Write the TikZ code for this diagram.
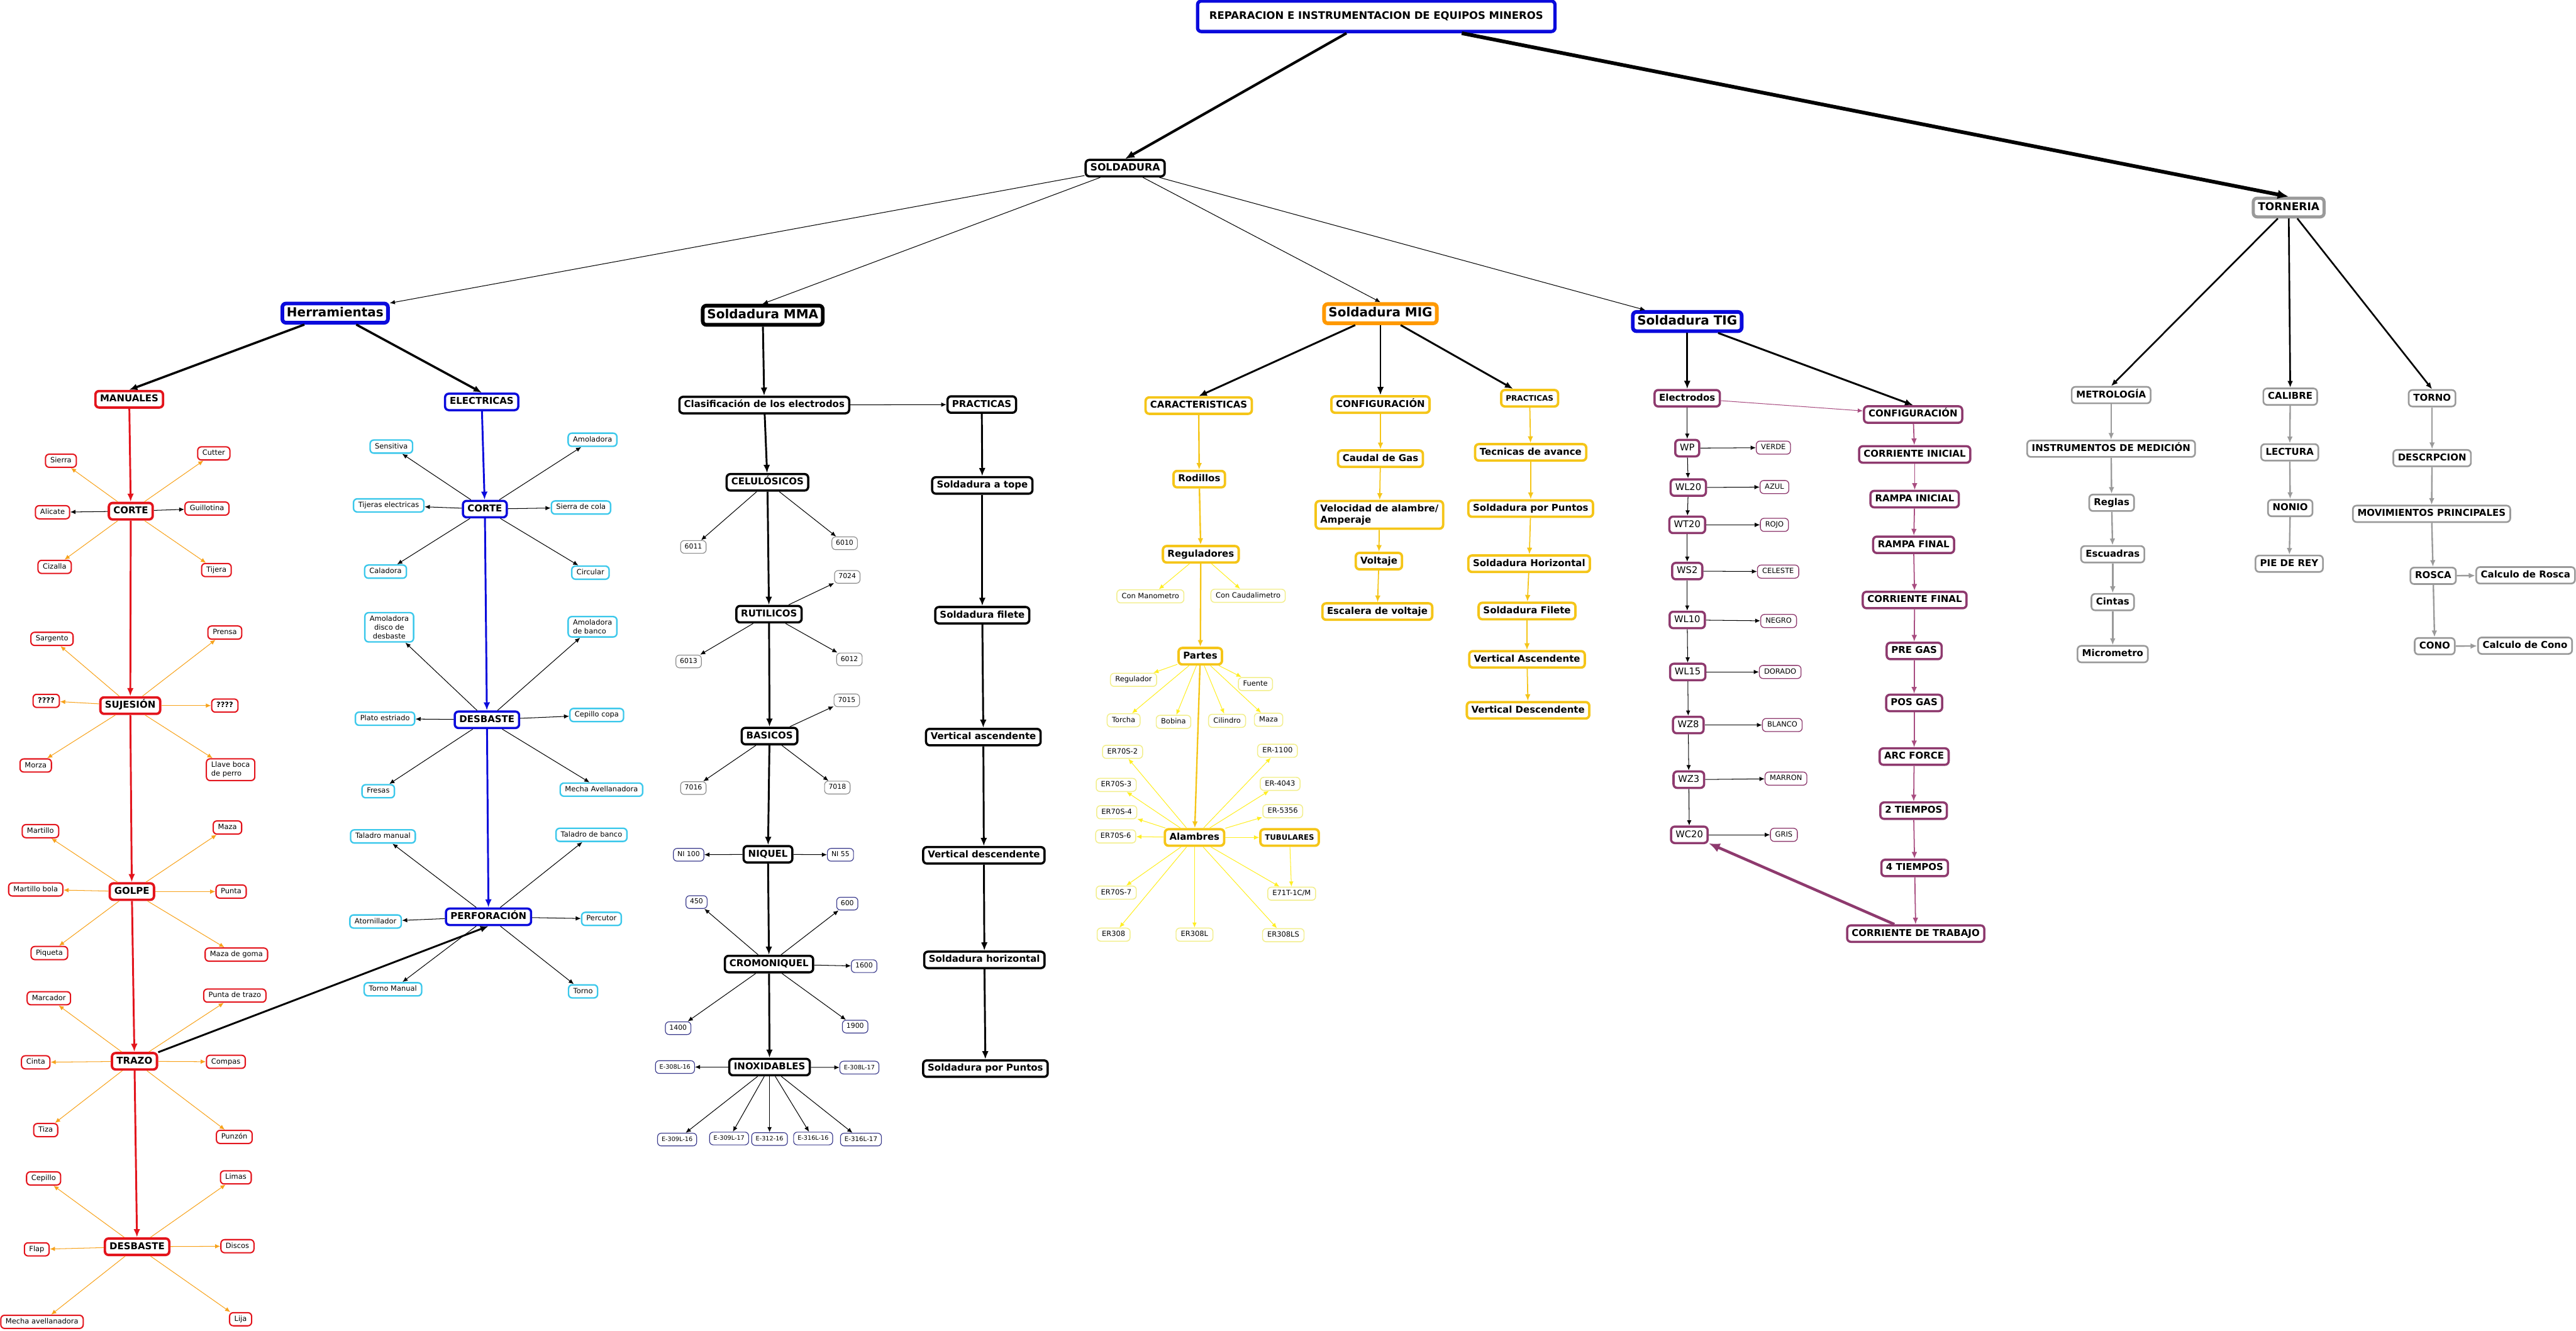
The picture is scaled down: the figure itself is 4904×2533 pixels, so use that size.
\documentclass[tikz,border=0pt]{standalone}
\usepackage{fontspec}
\setmainfont{DejaVu Sans}
\usetikzlibrary{arrows.meta}
\definecolor{cred}{HTML}{E3141C}
\definecolor{corange}{HTML}{F7A21B}
\definecolor{cblue}{HTML}{0A0ADC}
\definecolor{ccyan}{HTML}{3CC8EB}
\definecolor{cgold}{HTML}{F5C518}
\definecolor{cyel}{HTML}{FFEE22}
\definecolor{cyelb}{HTML}{F2EE8A}
\definecolor{cmig}{HTML}{FF9900}
\definecolor{cpurp}{HTML}{8E3A6E}
\definecolor{cpurpl}{HTML}{A84C80}
\definecolor{cgrayb}{HTML}{9A9A9A}
\definecolor{cgrayd}{HTML}{8C8C8C}
\definecolor{cnavy}{HTML}{3A3A8C}
\tikzset{
 box/.style={draw, fill=white, rounded corners=2pt, align=center},
 hdr/.style={box, line width=2pt, font=\bfseries\fontsize{6.8}{8}\selectfont, text height=5.2pt, text depth=1.6pt, inner xsep=2.4pt, inner ysep=1.8pt},
 lvtwo/.style={box, line width=1.1pt, font=\bfseries\fontsize{5.1}{6.2}\selectfont, text height=3.9pt, text depth=1.2pt, inner xsep=2.5pt, inner ysep=1.9pt},
 leaf/.style={box, line width=0.7pt, font=\fontsize{3.9}{4.8}\selectfont, text height=3pt, text depth=0.9pt, inner xsep=2.6pt, inner ysep=1.6pt},
 num/.style={box, line width=0.4pt, font=\fontsize{3.7}{4.5}\selectfont, text height=2.8pt, text depth=0.9pt, inner xsep=2.2pt, inner ysep=1.6pt},
 multi/.style={text height={}, text depth={}},
 ar/.style={-{Latex[length=2.8pt,width=2.4pt]}, line width=0.35pt},
 arm/.style={-{Latex[length=3.6pt,width=3pt]}, line width=0.8pt},
 arl/.style={-{Latex[length=4.4pt,width=3.6pt]}, line width=1pt},
 redtop/.style={lvtwo, draw=cred, line width=1.3pt},
 redleaf/.style={leaf, draw=cred},
 bluetop/.style={lvtwo, draw=cblue, line width=1.2pt},
 cyanleaf/.style={leaf, draw=ccyan, line width=0.8pt},
 blk/.style={lvtwo, line width=1.2pt},
 gnum/.style={num, draw=cgrayd},
 nnum/.style={num, draw=cnavy},
 gold/.style={lvtwo, draw=cgold, line width=1.3pt},
 yleaf/.style={leaf, draw=cyelb, line width=0.5pt},
 purp/.style={lvtwo, draw=cpurp, line width=1.2pt},
 pcode/.style={lvtwo, draw=cpurp, line width=1.2pt, font=\fontsize{5}{6}\selectfont},
 pleaf/.style={leaf, draw=cpurp, line width=0.45pt},
 gbox/.style={lvtwo, draw=cgrayb, line width=0.9pt},
}
\begin{document}
\begin{tikzpicture}[x=0.01cm,y=-0.01cm]
\useasboundingbox (0,0) rectangle (4904,2533);
% ---------- top ----------
\node[box, draw=cblue, line width=1.8pt, font=\bfseries\fontsize{5.6}{6.8}\selectfont, minimum width=6.8cm, minimum height=0.58cm] (title) at (2620,31) {REPARACION E INSTRUMENTACION DE EQUIPOS MINEROS};
\node[blk, font=\bfseries\fontsize{5.4}{6.5}\selectfont] (sold) at (2142,320) {SOLDADURA};
\node[box, draw=cgrayb, line width=1.7pt, font=\bfseries\fontsize{5.8}{7}\selectfont, text height=4.4pt, text depth=1.3pt, inner xsep=2.5pt, inner ysep=2.2pt] (torn) at (4357,395) {TORNERIA};
% ---------- Herramientas ----------
\node[hdr, draw=cblue] (herr) at (638,596) {Herramientas};
\node[redtop] (man) at (246,760) {MANUALES};
\node[bluetop] (elec) at (917,765) {ELECTRICAS};
% manuales
\node[redtop] (mcorte) at (249,973) {CORTE};
\node[redleaf] (msierra) at (116,877) {Sierra};
\node[redleaf] (mcutter) at (407,863) {Cutter};
\node[redleaf] (malicate) at (100,975) {Alicate};
\node[redleaf] (mguill) at (394,968) {Guillotina};
\node[redleaf] (mcizalla) at (104,1079) {Cizalla};
\node[redleaf] (mtijera) at (412,1085) {Tijera};
\node[redtop] (msuj) at (248,1343) {SUJESIÓN};
\node[redleaf] (msarg) at (99,1216) {Sargento};
\node[redleaf] (mprensa) at (428,1204) {Prensa};
\node[redleaf, font=\bfseries\fontsize{3.9}{4.8}\selectfont] (mqa) at (88,1334) {????};
\node[redleaf, font=\bfseries\fontsize{3.9}{4.8}\selectfont] (mqb) at (428,1343) {????};
\node[redleaf] (mmorza) at (68,1457) {Morza};
\node[redleaf, multi, align=left] (mllave) at (439,1465) {Llave boca\\de perro};
\node[redtop] (mgolpe) at (251,1697) {GOLPE};
\node[redleaf] (mmart) at (77,1582) {Martillo};
\node[redleaf] (mmaza) at (433,1575) {Maza};
\node[redleaf] (mmbola) at (68,1693) {Martillo bola};
\node[redleaf] (mpunta) at (440,1697) {Punta};
\node[redleaf] (mpiq) at (94,1814) {Piqueta};
\node[redleaf] (mmgoma) at (450,1817) {Maza de goma};
\node[redtop] (mtrazo) at (256,2020) {TRAZO};
\node[redleaf] (mmarc) at (93,1900) {Marcador};
\node[redleaf] (mptrazo) at (447,1895) {Punta de trazo};
\node[redleaf] (mcinta) at (68,2022) {Cinta};
\node[redleaf] (mcompas) at (430,2021) {Compas};
\node[redleaf] (mtiza) at (87,2151) {Tiza};
\node[redleaf] (mpunzon) at (446,2164) {Punzón};
\node[redtop] (mdesb) at (261,2373) {DESBASTE};
\node[redleaf] (mcepillo) at (83,2243) {Cepillo};
\node[redleaf] (mlimas) at (449,2241) {Limas};
\node[redleaf] (mflap) at (70,2378) {Flap};
\node[redleaf] (mdiscos) at (452,2372) {Discos};
\node[redleaf] (mmecha) at (80,2516) {Mecha avellanadora};
\node[redleaf] (mlija) at (458,2511) {Lija};
% electricas
\node[bluetop] (ecorte) at (923,969) {CORTE};
\node[cyanleaf] (esens) at (745,850) {Sensitiva};
\node[cyanleaf] (eamol) at (1128,837) {Amoladora};
\node[cyanleaf] (etij) at (740,962) {Tijeras electricas};
\node[cyanleaf] (esierra) at (1106,966) {Sierra de cola};
\node[cyanleaf] (ecal) at (734,1088) {Caladora};
\node[cyanleaf] (ecirc) at (1124,1090) {Circular};
\node[cyanleaf, multi] (eamdd) at (741,1194) {Amoladora\\disco de\\desbaste};
\node[cyanleaf, multi, align=left] (eamb) at (1128,1193) {Amoladora\\de banco};
\node[bluetop] (edesb) at (927,1370) {DESBASTE};
\node[cyanleaf] (eplato) at (733,1368) {Plato estriado};
\node[cyanleaf] (ecep) at (1136,1361) {Cepillo copa};
\node[cyanleaf] (efres) at (720,1506) {Fresas};
\node[cyanleaf] (emecha) at (1145,1503) {Mecha Avellanadora};
\node[cyanleaf] (etalm) at (729,1592) {Taladro manual};
\node[cyanleaf] (etalb) at (1126,1589) {Taladro de banco};
\node[bluetop] (eperf) at (930,1745) {PERFORACIÓN};
\node[cyanleaf] (eator) at (715,1754) {Atornillador};
\node[cyanleaf] (eperc) at (1145,1749) {Percutor};
\node[cyanleaf] (etornm) at (748,1883) {Torno Manual};
\node[cyanleaf] (etorno) at (1110,1887) {Torno};
% ---------- MMA ----------
\node[hdr] (mma) at (1452,600) {Soldadura MMA};
\node[blk] (clas) at (1455,771) {Clasificación de los electrodos};
\node[blk] (prac) at (1869,770) {PRACTICAS};
\node[blk] (celu) at (1461,918) {CELULÓSICOS};
\node[blk] (tope) at (1870,924) {Soldadura a tope};
\node[gnum] (n6011) at (1320,1041) {6011};
\node[gnum] (n6010) at (1608,1034) {6010};
\node[gnum] (n7024) at (1613,1098) {7024};
\node[blk] (ruti) at (1464,1169) {RUTILICOS};
\node[blk] (filete) at (1870,1171) {Soldadura filete};
\node[gnum] (n6013) at (1311,1259) {6013};
\node[gnum] (n6012) at (1617,1255) {6012};
\node[gnum] (n7015) at (1612,1333) {7015};
\node[blk] (basi) at (1465,1401) {BASICOS};
\node[blk] (vasc) at (1872,1403) {Vertical ascendente};
\node[gnum] (n7016) at (1320,1500) {7016};
\node[gnum] (n7018) at (1594,1499) {7018};
\node[blk] (niq) at (1462,1626) {NIQUEL};
\node[nnum] (nia) at (1311,1627) {NI 100};
\node[nnum] (nib) at (1600,1627) {NI 55};
\node[blk] (vdesc) at (1873,1628) {Vertical descendente};
\node[nnum] (n450) at (1326,1717) {450};
\node[nnum] (n600) at (1613,1720) {600};
\node[blk] (crom) at (1464,1835) {CROMONIQUEL};
\node[nnum] (n1600) at (1645,1839) {1600};
\node[blk] (shor) at (1874,1827) {Soldadura horizontal};
\node[nnum] (n1400) at (1291,1957) {1400};
\node[nnum] (n1900) at (1628,1954) {1900};
\node[blk] (inox) at (1465,2031) {INOXIDABLES};
\node[nnum, font=\fontsize{3.3}{4}\selectfont] (eaa) at (1285,2031) {E-308L-16};
\node[nnum, font=\fontsize{3.3}{4}\selectfont] (eab) at (1636,2032) {E-308L-17};
\node[blk] (spunt) at (1876,2034) {Soldadura por Puntos};
\node[nnum, font=\fontsize{3.3}{4}\selectfont] (eba) at (1289,2169) {E-309L-16};
\node[nnum, font=\fontsize{3.3}{4}\selectfont] (ebb) at (1388,2167) {E-309L-17};
\node[nnum, font=\fontsize{3.3}{4}\selectfont] (eca) at (1465,2168) {E-312-16};
\node[nnum, font=\fontsize{3.3}{4}\selectfont] (eda) at (1548,2167) {E-316L-16};
\node[nnum, font=\fontsize{3.5}{4.2}\selectfont] (edb) at (1639,2169) {E-316L-17};
% ---------- MIG ----------
\node[hdr, draw=cmig] (mig) at (2628,597) {Soldadura MIG};
\node[gold] (car) at (2282,772) {CARACTERISTICAS};
\node[gold] (mcfg) at (2628,770) {CONFIGURACIÓN};
\node[gold, font=\bfseries\fontsize{4.1}{5}\selectfont] (mprac) at (2912,758) {PRACTICAS};
\node[gold] (rod) at (2283,912) {Rodillos};
\node[gold] (caudal) at (2628,873) {Caudal de Gas};
\node[gold] (tec) at (2914,861) {Tecnicas de avance};
\node[gold, multi, align=left] (vel) at (2626,980) {Velocidad de alambre/\\Amperaje};
\node[gold] (mpunt) at (2914,968) {Soldadura por Puntos};
\node[gold] (reg) at (2286,1055) {Reguladores};
\node[gold] (volt) at (2625,1068) {Voltaje};
\node[gold] (mhor) at (2911,1073) {Soldadura Horizontal};
\node[yleaf] (cmano) at (2190,1135) {Con Manometro};
\node[yleaf] (ccaud) at (2376,1134) {Con Caudalimetro};
\node[gold] (escal) at (2622,1164) {Escalera de voltaje};
\node[gold] (mfil) at (2907,1163) {Soldadura Filete};
\node[gold] (partes) at (2285,1249) {Partes};
\node[gold] (mvasc) at (2907,1255) {Vertical Ascendente};
\node[yleaf] (regu) at (2158,1294) {Regulador};
\node[yleaf] (fuente) at (2390,1302) {Fuente};
\node[gold] (mvdesc) at (2909,1352) {Vertical Descendente};
\node[yleaf] (torcha) at (2139,1371) {Torcha};
\node[yleaf] (bobina) at (2234,1374) {Bobina};
\node[yleaf] (cilindro) at (2336,1372) {Cilindro};
\node[yleaf] (mmazb) at (2415,1370) {Maza};
\node[yleaf] (erb) at (2137,1431) {ER70S-2};
\node[yleaf] (erk) at (2432,1429) {ER-1100};
\node[yleaf] (erc) at (2125,1494) {ER70S-3};
\node[yleaf] (erl) at (2437,1492) {ER-4043};
\node[yleaf] (erd) at (2126,1546) {ER70S-4};
\node[yleaf] (erm) at (2442,1544) {ER-5356};
\node[yleaf] (erf) at (2124,1592) {ER70S-6};
\node[gold] (alam) at (2274,1594) {Alambres};
\node[gold, font=\bfseries\fontsize{4}{5}\selectfont] (tub) at (2455,1594) {TUBULARES};
\node[yleaf] (erg) at (2125,1699) {ER70S-7};
\node[yleaf] (etub) at (2459,1701) {E71T-1C/M};
\node[yleaf] (erx) at (2120,1779) {ER308};
\node[yleaf] (ery) at (2274,1779) {ER308L};
\node[yleaf] (erz) at (2443,1780) {ER308LS};
% ---------- TIG ----------
\node[hdr, draw=cblue] (tig) at (3212,612) {Soldadura TIG};
\node[purp] (tele) at (3212,758) {Electrodos};
\node[purp] (tcfg) at (3642,789) {CONFIGURACIÓN};
\node[pcode] (wp) at (3212,853) {WP};
\node[pleaf] (verde) at (3376,852) {VERDE};
\node[purp] (ci) at (3645,865) {CORRIENTE INICIAL};
\node[pcode] (wla) at (3214,928) {WL20};
\node[pleaf] (azul) at (3378,927) {AZUL};
\node[purp] (ri) at (3645,950) {RAMPA INICIAL};
\node[pcode] (wta) at (3212,999) {WT20};
\node[pleaf] (rojo) at (3378,999) {ROJO};
\node[purp] (rf) at (3643,1037) {RAMPA FINAL};
\node[pcode] (wsa) at (3212,1087) {WS2};
\node[pleaf] (celeste) at (3385,1088) {CELESTE};
\node[purp] (cf) at (3645,1142) {CORRIENTE FINAL};
\node[pcode] (wlb) at (3212,1180) {WL10};
\node[pleaf] (negro) at (3386,1182) {NEGRO};
\node[purp] (pregas) at (3644,1239) {PRE GAS};
\node[pcode] (wlc) at (3213,1279) {WL15};
\node[pleaf] (dorado) at (3389,1279) {DORADO};
\node[purp] (posgas) at (3644,1338) {POS GAS};
\node[pcode] (wza) at (3214,1380) {WZ8};
\node[pleaf] (blanco) at (3393,1380) {BLANCO};
\node[purp] (arcf) at (3644,1440) {ARC FORCE};
\node[pcode] (wzb) at (3215,1484) {WZ3};
\node[pleaf] (marron) at (3400,1482) {MARRON};
\node[purp] (tdos) at (3643,1543) {2 TIEMPOS};
\node[pcode] (wca) at (3216,1589) {WC20};
\node[pleaf] (gris) at (3396,1589) {GRIS};
\node[purp] (tcuatro) at (3645,1652) {4 TIEMPOS};
\node[purp] (ctrab) at (3647,1777) {CORRIENTE DE TRABAJO};
% ---------- TORNERIA ----------
\node[gbox] (metro) at (4019,752) {METROLOGÍA};
\node[gbox] (calib) at (4360,755) {CALIBRE};
\node[gbox] (torno) at (4630,758) {TORNO};
\node[gbox] (instr) at (4019,854) {INSTRUMENTOS DE MEDICIÓN};
\node[gbox] (lect) at (4359,861) {LECTURA};
\node[gbox] (descr) at (4630,872) {DESCRPCION};
\node[gbox] (reglas) at (4020,957) {Reglas};
\node[gbox] (nonio) at (4360,967) {NONIO};
\node[gbox] (movp) at (4629,978) {MOVIMIENTOS PRINCIPALES};
\node[gbox] (escu) at (4022,1055) {Escuadras};
\node[gbox] (pie) at (4358,1073) {PIE DE REY};
\node[gbox] (rosca) at (4632,1096) {ROSCA};
\node[gbox] (crosca) at (4808,1095) {Calculo de Rosca};
\node[gbox] (cintas) at (4022,1146) {Cintas};
\node[gbox] (micro) at (4022,1245) {Micrometro};
\node[gbox] (cono) at (4635,1230) {CONO};
\node[gbox] (ccono) at (4807,1229) {Calculo de Cono};
% ================= CONNECTORS =================
\draw[-{Latex[length=5pt,width=4.2pt]}, line width=1.4pt] (title) -- (sold.north);
\draw[-{Latex[length=6pt,width=5pt]}, line width=2pt] (title) -- (torn.north);
\draw[ar] (sold) -- (herr);
\draw[ar] (sold) -- (mma.north);
\draw[ar] (sold) -- (mig.north);
\draw[ar] (sold) -- (tig);
\draw[arl, line width=1.2pt] (herr) -- (man.north);
\draw[arl, line width=1.2pt] (herr) -- (elec.north);
% manuales
\draw[arl, cred] (man) -- (mcorte);
\draw[arl, cred] (mcorte) -- (msuj);
\draw[arl, cred] (msuj) -- (mgolpe);
\draw[arl, cred] (mgolpe) -- (mtrazo);
\draw[arl, cred] (mtrazo) -- (mdesb);
\foreach \t in {msierra,mcutter,mcizalla,mtijera} {\draw[ar, corange] (mcorte) -- (\t);}
\draw[ar] (mcorte) -- (malicate);
\draw[ar] (mcorte) -- (mguill);
\foreach \t in {msarg,mprensa,mqa,mqb,mmorza,mllave} {\draw[ar, corange] (msuj) -- (\t);}
\foreach \t in {mmart,mmaza,mmbola,mpunta,mpiq,mmgoma} {\draw[ar, corange] (mgolpe) -- (\t);}
\foreach \t in {mmarc,mptrazo,mcinta,mcompas,mtiza,mpunzon} {\draw[ar, corange] (mtrazo) -- (\t);}
\foreach \t in {mcepillo,mlimas,mflap,mdiscos,mmecha,mlija} {\draw[ar, corange] (mdesb) -- (\t);}
\draw[arl] (mtrazo) -- (eperf.south);
% electricas
\draw[arl, cblue] (elec) -- (ecorte);
\draw[arl, cblue] (ecorte) -- (edesb);
\draw[arl, cblue] (edesb) -- (eperf);
\foreach \t in {esens,eamol,etij,esierra,ecal,ecirc} {\draw[ar] (ecorte) -- (\t);}
\foreach \t in {eamdd,eamb,eplato,ecep,efres,emecha} {\draw[ar] (edesb) -- (\t);}
\foreach \t in {etalm,etalb,eator,eperc,etornm,etorno} {\draw[ar] (eperf) -- (\t);}
% MMA
\draw[arl] (mma) -- (clas);
\draw[arl] (clas) -- (celu);
\draw[ar] (clas) -- (prac);
\draw[arl] (celu) -- (ruti);
\draw[arl] (ruti) -- (basi);
\draw[arl] (basi) -- (niq);
\draw[arl] (niq) -- (crom);
\draw[arl] (crom) -- (inox);
\draw[arl] (prac) -- (tope);
\draw[arl] (tope) -- (filete);
\draw[arl] (filete) -- (vasc);
\draw[arl] (vasc) -- (vdesc);
\draw[arl] (vdesc) -- (shor);
\draw[arl] (shor) -- (spunt);
\foreach \t in {n6011,n6010} {\draw[ar] (celu) -- (\t);}
\foreach \t in {n7024,n6013,n6012} {\draw[ar] (ruti) -- (\t);}
\foreach \t in {n7015,n7016,n7018} {\draw[ar] (basi) -- (\t);}
\foreach \t in {nia,nib} {\draw[ar] (niq) -- (\t);}
\foreach \t in {n450,n600,n1600,n1400,n1900} {\draw[ar] (crom) -- (\t);}
\foreach \t in {eaa,eab,eba,ebb,eca,eda,edb} {\draw[ar] (inox) -- (\t);}
% MIG
\draw[arl] (mig) -- (car.north);
\draw[arl, line width=0.9pt] (mig) -- (mcfg);
\draw[arl] (mig) -- (mprac);
\draw[arm, cgold] (car) -- (rod);
\draw[arm, cgold] (rod) -- (reg);
\draw[arm, cgold] (reg) -- (partes);
\draw[arm, cgold] (partes) -- (alam);
\draw[arm, cgold, line width=0.6pt] (mcfg) -- (caudal);
\draw[arm, cgold, line width=0.6pt] (caudal) -- (vel);
\draw[arm, cgold, line width=0.6pt] (vel) -- (volt);
\draw[arm, cgold, line width=0.6pt] (volt) -- (escal);
\draw[arm, cgold, line width=0.6pt] (mprac) -- (tec);
\draw[arm, cgold, line width=0.6pt] (tec) -- (mpunt);
\draw[arm, cgold, line width=0.6pt] (mpunt) -- (mhor);
\draw[arm, cgold, line width=0.6pt] (mhor) -- (mfil);
\draw[arm, cgold, line width=0.6pt] (mfil) -- (mvasc);
\draw[arm, cgold, line width=0.6pt] (mvasc) -- (mvdesc);
\foreach \t in {cmano,ccaud} {\draw[ar, cyel] (reg) -- (\t);}
\foreach \t in {regu,fuente,torcha,bobina,cilindro,mmazb} {\draw[ar, cyel] (partes) -- (\t);}
\foreach \t in {erb,erc,erd,erf,erg,erx,ery,erz,etub,erk,erl,erm,tub} {\draw[ar, cyel] (alam) -- (\t);}
\draw[ar, cyel] (tub) -- (etub);
% TIG
\draw[arl] (tig) -- (tele);
\draw[arl] (tig) -- (tcfg.north);
\draw[ar, cpurpl] (tele) -- (tcfg);
\draw[ar] (tele) -- (wp);
\draw[ar] (wp) -- (wla);
\draw[ar] (wla) -- (wta);
\draw[ar] (wta) -- (wsa);
\draw[ar] (wsa) -- (wlb);
\draw[ar] (wlb) -- (wlc);
\draw[ar] (wlc) -- (wza);
\draw[ar] (wza) -- (wzb);
\draw[ar] (wzb) -- (wca);
\draw[ar] (wp) -- (verde);
\draw[ar] (wla) -- (azul);
\draw[ar] (wta) -- (rojo);
\draw[ar] (wsa) -- (celeste);
\draw[ar] (wlb) -- (negro);
\draw[ar] (wlc) -- (dorado);
\draw[ar] (wza) -- (blanco);
\draw[ar] (wzb) -- (marron);
\draw[ar] (wca) -- (gris);
\draw[arm, cpurpl, line width=0.6pt] (tcfg) -- (ci);
\draw[arm, cpurpl, line width=0.6pt] (ci) -- (ri);
\draw[arm, cpurpl, line width=0.6pt] (ri) -- (rf);
\draw[arm, cpurpl, line width=0.6pt] (rf) -- (cf);
\draw[arm, cpurpl, line width=0.6pt] (cf) -- (pregas);
\draw[arm, cpurpl, line width=0.6pt] (pregas) -- (posgas);
\draw[arm, cpurpl, line width=0.6pt] (posgas) -- (arcf);
\draw[arm, cpurpl, line width=0.6pt] (arcf) -- (tdos);
\draw[arm, cpurpl, line width=0.6pt] (tdos) -- (tcuatro);
\draw[arm, cpurpl, line width=0.6pt] (tcuatro) -- (ctrab);
\draw[-{Latex[length=6pt,width=5pt]}, line width=1.5pt, cpurp] (ctrab) -- (wca);
% TORNERIA
\draw[arm, line width=0.9pt] (torn) -- (metro.north);
\draw[arm, line width=0.9pt] (torn) -- (calib.north);
\draw[arm, line width=0.9pt] (torn) -- (torno.north);
\draw[arm, cgrayb] (metro) -- (instr);
\draw[arm, cgrayb] (instr) -- (reglas);
\draw[arm, cgrayb] (reglas) -- (escu);
\draw[arm, cgrayb] (escu) -- (cintas);
\draw[arm, cgrayb] (cintas) -- (micro);
\draw[arm, cgrayb] (calib) -- (lect);
\draw[arm, cgrayb] (lect) -- (nonio);
\draw[arm, cgrayb] (nonio) -- (pie);
\draw[arm, cgrayb] (torno) -- (descr);
\draw[arm, cgrayb] (descr) -- (movp);
\draw[arm, cgrayb] (movp) -- (rosca);
\draw[arm, cgrayb] (rosca) -- (cono);
\draw[arm, cgrayb] (rosca) -- (crosca);
\draw[arm, cgrayb] (cono) -- (ccono);
\end{tikzpicture}
\end{document}
